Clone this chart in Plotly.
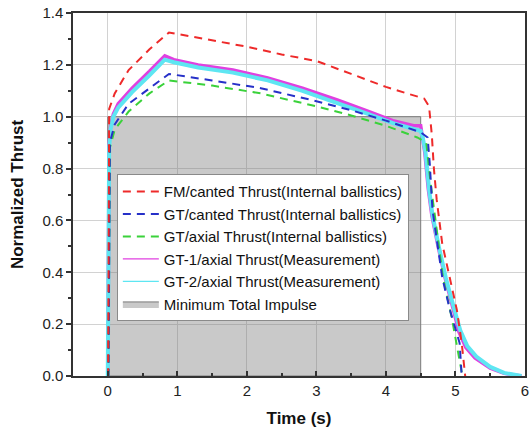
import plotly.graph_objects as go

# ---- data ----
t_fm = [0.0, 0.005, 0.02, 0.1, 0.3, 0.6, 0.88, 1.5, 2.0, 2.5, 3.0, 3.5, 4.0, 4.3, 4.55,
        4.62, 4.66, 4.69, 4.73, 4.81, 4.92, 5.02, 5.09, 5.14]
thr_fm = [0.0, 0.0, 1.03, 1.09, 1.18, 1.26, 1.325, 1.295, 1.27, 1.24, 1.215, 1.165, 1.115, 1.09, 1.07,
          1.04, 0.93, 0.80, 0.68, 0.51, 0.38, 0.255, 0.127, 0.0]

t_gtc = [0.0, 0.01, 0.03, 0.1, 0.3, 0.6, 0.88, 1.5, 2.2, 3.0, 3.5, 4.0, 4.5, 4.6,
         4.63, 4.67, 4.81, 4.92, 5.06, 5.09]
thr_gtc = [0.0, 0.0, 0.90, 0.97, 1.05, 1.11, 1.165, 1.14, 1.11, 1.06, 1.025, 0.985, 0.94, 0.92,
           0.82, 0.64, 0.38, 0.255, 0.127, 0.0]

t_gta = [0.0, 0.01, 0.03, 0.1, 0.3, 0.6, 0.88, 1.5, 2.2, 3.0, 3.5, 4.0, 4.45, 4.58,
         4.64, 4.7, 4.82, 4.95, 5.05, 5.1]
thr_gta = [0.0, 0.0, 0.88, 0.95, 1.02, 1.09, 1.14, 1.12, 1.09, 1.04, 1.005, 0.965, 0.92, 0.90,
           0.75, 0.62, 0.38, 0.22, 0.08, 0.0]

t_gt1 = [0.0, 0.02, 0.04, 0.08, 0.15, 0.35, 0.6, 0.82, 0.95, 1.3, 1.8, 2.3, 2.8, 3.3, 3.7,
         4.1, 4.4, 4.5, 4.52, 4.56, 4.61, 4.66, 4.75, 4.85, 4.97, 5.05, 5.15, 5.28, 5.5, 5.7, 5.95]
thr_gt1 = [0.0, 0.90, 0.96, 1.01, 1.05, 1.11, 1.175, 1.235, 1.22, 1.20, 1.18, 1.15, 1.11, 1.065, 1.025,
           0.985, 0.965, 0.965, 0.93, 0.86, 0.72, 0.62, 0.50, 0.38, 0.255, 0.17, 0.11, 0.07, 0.03, 0.01, 0.0]

t_gt2 = [0.0, 0.02, 0.04, 0.08, 0.15, 0.35, 0.6, 0.82, 0.95, 1.3, 1.8, 2.3, 2.8, 3.3, 3.7,
         4.1, 4.4, 4.5, 4.53, 4.57, 4.62, 4.67, 4.76, 4.86, 4.98, 5.07, 5.17, 5.3, 5.5, 5.7, 5.95]
thr_gt2 = [0.0, 0.88, 0.95, 1.00, 1.035, 1.095, 1.16, 1.22, 1.21, 1.19, 1.17, 1.14, 1.10, 1.055, 1.015,
           0.975, 0.95, 0.945, 0.92, 0.86, 0.72, 0.62, 0.50, 0.38, 0.26, 0.175, 0.115, 0.075, 0.035, 0.012, 0.0]

impulse_t = [0.0, 0.0, 4.5, 4.5, 0.0]
impulse_y = [0.0, 1.0, 1.0, 0.0, 0.0]

names = ["FM/canted Thrust(Internal ballistics)",
         "GT/canted Thrust(Internal ballistics)",
         "GT/axial Thrust(Internal ballistics)",
         "GT-1/axial Thrust(Measurement)",
         "GT-2/axial Thrust(Measurement)",
         "Minimum Total Impulse"]

x_ticks = [0, 1, 2, 3, 4, 5, 6]
y_ticks = [0.0, 0.2, 0.4, 0.6, 0.8, 1.0, 1.2, 1.4]

RED, BLUE, GREEN, MAG, CYAN = "#ee2a2a", "#2630c8", "#3ad23a", "#e040e0", "#5ee6f2"
DASH = "8px,6px"
FONT = "Arial, Liberation Sans, sans-serif"

fig = go.Figure()

# gray region
fig.add_trace(go.Scatter(x=impulse_t, y=impulse_y, fill="toself", mode="lines",
                         fillcolor="rgba(120,120,120,0.40)",
                         line=dict(color="#7a7a7a", width=1),
                         name=names[5], legendrank=6, hoverinfo="skip"))

# measurement bands (thick to imitate the noisy traces)
fig.add_trace(go.Scatter(x=t_gt1, y=thr_gt1, mode="lines", line=dict(color=MAG, width=3.5),
                         showlegend=False))
fig.add_trace(go.Scatter(x=t_gt2, y=thr_gt2, mode="lines", line=dict(color=CYAN, width=4),
                         showlegend=False))

# internal ballistics
fig.add_trace(go.Scatter(x=t_gta, y=thr_gta, mode="lines",
                         line=dict(color=GREEN, width=2, dash=DASH),
                         name=names[2], legendrank=3))
fig.add_trace(go.Scatter(x=t_gtc, y=thr_gtc, mode="lines",
                         line=dict(color=BLUE, width=2, dash=DASH),
                         name=names[1], legendrank=2))
fig.add_trace(go.Scatter(x=t_fm, y=thr_fm, mode="lines",
                         line=dict(color=RED, width=2, dash=DASH),
                         name=names[0], legendrank=1))

# legend entries for measurements (thin lines as in the reference legend)
fig.add_trace(go.Scatter(x=[None], y=[None], mode="lines", line=dict(color=MAG, width=1.2),
                         name=names[3], legendrank=4))
fig.add_trace(go.Scatter(x=[None], y=[None], mode="lines", line=dict(color=CYAN, width=1.2),
                         name=names[4], legendrank=5))

axis_common = dict(showline=True, linecolor="#333333", linewidth=1.5, mirror=True,
                   showgrid=True, gridcolor="#d2d2d2", gridwidth=1,
                   tickfont=dict(family=FONT, size=15, color="#222222"),
                   zeroline=False, ticklen=5, tickwidth=1.5, tickcolor="#333333",
                   automargin=False)

fig.update_xaxes(range=[-0.5, 6], tickvals=x_ticks, ticks="inside", ticklabeloverflow="allow",
                 minor=dict(dtick=0.5, ticks="inside", ticklen=3, tickcolor="#333333", showgrid=False),
                 title=dict(text="<b>Time (s)</b>", font=dict(family=FONT, size=17, color="#111111"),
                            standoff=14),
                 **axis_common)
fig.update_yaxes(range=[0, 1.4], tickvals=y_ticks, tickformat=".1f", ticks="outside",
                 minor=dict(dtick=0.1, ticks="outside", ticklen=3, tickcolor="#333333", showgrid=False),
                 title=dict(text="<b>Normalized Thrust</b>", font=dict(family=FONT, size=17, color="#111111"),
                            standoff=14),
                 **axis_common)

fig.update_layout(
    width=531, height=433,
    margin=dict(l=73, r=6, t=13, b=57),
    paper_bgcolor="white", plot_bgcolor="white",
    showlegend=True,
    legend=dict(x=0.097, y=0.556, xanchor="left", yanchor="top",
                bgcolor="white", bordercolor="#8a8a8a", borderwidth=1,
                font=dict(family=FONT, size=15, color="#111111"),
                itemwidth=36, tracegroupgap=0),
)

fig.write_html("out.html", config={"displayModeBar": False},
               post_script="document.body.style.margin='0px';")
